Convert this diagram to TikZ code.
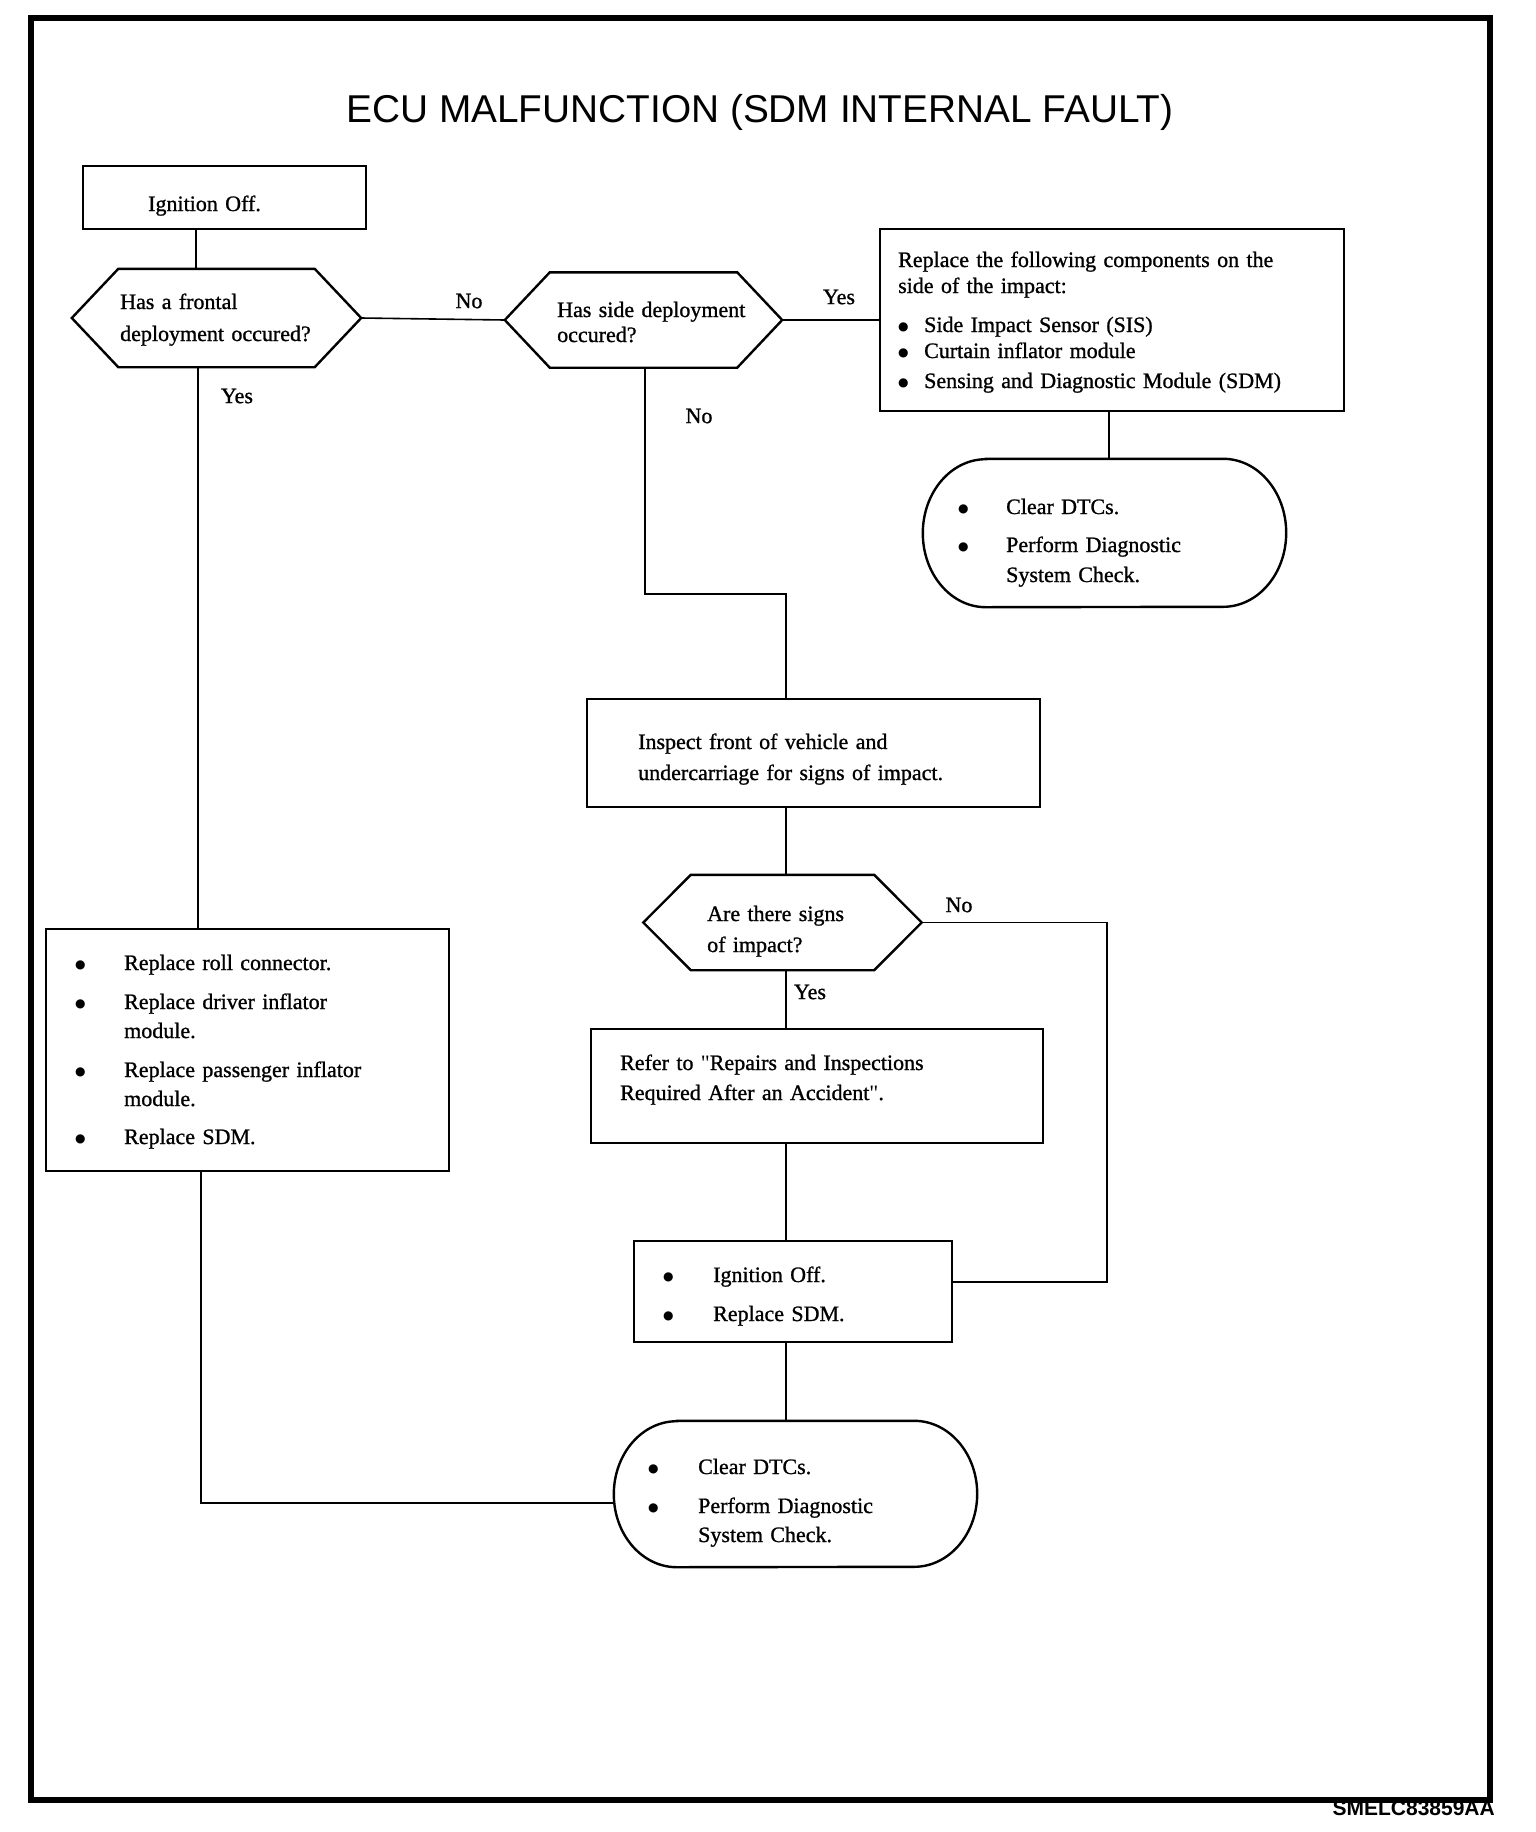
\documentclass[tikz,border=0pt]{standalone}
\usepackage{fontspec}
\setmainfont{Liberation Serif}[FakeBold=1.0]
\newfontfamily\titlefont{Liberation Sans}
\newfontfamily\plainserif{Liberation Serif}
\newfontfamily\symfont{DejaVu Sans}
\usetikzlibrary{calc}
\newcommand\bul[1]{\makebox[#1][l]{\raisebox{1.5pt}{\symfont\fontsize{12}{12}\selectfont ●}}}
\newcommand\sq{{\plainserif"}}
\begin{document}
\begin{tikzpicture}[x=1pt,y=-1pt,
  frame/.style={draw, line width=2.4pt, inner sep=0pt},
  ghost/.style={inner sep=0pt, draw=none},
  txt/.style={inner sep=0pt, anchor=base west, align=left, text width=#1, font=\fontsize{22}{22}\selectfont},
  txt/.default=420pt,
  lbl/.style={inner sep=0pt, font=\fontsize{22}{22}\selectfont},
  conn/.style={line width=1.6pt},
  outl/.style={line width=2.4pt, line join=miter}]
\useasboundingbox (0,0) rectangle (1536,1832);
\draw[line width=6pt] (31,18) rectangle (1490,1800);

% title and code
\node[anchor=base, inner sep=0pt, font=\titlefont\fontsize{38.8}{38.8}\selectfont] (title) at (760,122) {ECU MALFUNCTION (SDM INTERNAL FAULT)};
\node[anchor=base east, inner sep=0pt, font=\titlefont\bfseries\fontsize{21}{21}\selectfont] (code) at (1495,1815) {SMELC83859AA};

% boxes
\node[frame, minimum width=283pt, minimum height=63pt] (ign) at (224.5,197.5) {};
\node[txt=150pt] (ignT) at (148,211) {Ignition Off.};

\node[ghost, minimum width=196pt, minimum height=98pt] (d1) at (216.5,318) {};
\coordinate (d1l) at ([xshift=-46.5pt]d1.west);
\coordinate (d1r) at ([xshift=46.5pt]d1.east);
\draw[outl] (d1.north west) -- (d1.north east) -- (d1r) -- (d1.south east) -- (d1.south west) -- (d1l) -- cycle;
\node[txt=205pt] (d1T) at (120,309) {Has a frontal\\[10pt]deployment occured?};

\node[ghost, minimum width=187pt, minimum height=95pt] (d2) at (643.5,320) {};
\coordinate (d2l) at ([xshift=-45pt]d2.west);
\coordinate (d2r) at ([xshift=45pt]d2.east);
\draw[outl] (d2.north west) -- (d2.north east) -- (d2r) -- (d2.south east) -- (d2.south west) -- (d2l) -- cycle;
\node[txt=215pt] (d2T) at (557,317) {Has side deployment\\[3pt]occured?};

\node[frame, minimum width=464pt, minimum height=182pt] (rbox) at (1112,320) {};
\node[txt=440pt] (rboxT) at (898,267) {Replace the following components on the\\[4pt]side of the impact:\\[17pt]\bul{26pt}Side Impact Sensor (SIS)\\[4pt]\bul{26pt}Curtain inflator module\\[8pt]\bul{26pt}Sensing and Diagnostic Module (SDM)};

\node[ghost, minimum width=363pt, minimum height=148pt] (t1) at (1104.5,533) {};
\draw[outl] ([xshift=63pt]t1.north west) -- ([xshift=-63pt]t1.north east)
  arc[start angle=90, end angle=-90, x radius=63pt, y radius=74pt]
  -- ([xshift=63pt]t1.south west)
  arc[start angle=-90, end angle=-270, x radius=63pt, y radius=74pt] -- cycle;
\node[txt=280pt] (t1T) at (958,514) {\bul{48pt}Clear DTCs.\\[16pt]\bul{48pt}Perform Diagnostic\\[8pt]\hspace*{48pt}System Check.};

\node[frame, minimum width=453pt, minimum height=108pt] (insp) at (813.5,753) {};
\node[txt=350pt] (inspT) at (638,749) {Inspect front of vehicle and\\[9pt]undercarriage for signs of impact.};

\node[ghost, minimum width=183pt, minimum height=95pt] (d3) at (782.5,922.5) {};
\coordinate (d3l) at ([xshift=-47.5pt]d3.west);
\coordinate (d3r) at ([xshift=47.5pt]d3.east);
\draw[outl] (d3.north west) -- (d3.north east) -- (d3r) -- (d3.south east) -- (d3.south west) -- (d3l) -- cycle;
\node[txt=170pt] (d3T) at (707,921) {Are there signs\\[9pt]of impact?};

\node[frame, minimum width=452pt, minimum height=114pt] (refer) at (817,1086) {};
\node[txt=390pt] (referT) at (620,1070) {Refer to \sq Repairs and Inspections\\[8pt]Required After an Accident\sq.};

\node[frame, minimum width=318pt, minimum height=101pt] (box2) at (793,1291.5) {};
\node[txt=220pt] (box2T) at (663,1282) {\bul{50pt}Ignition Off.\\[17pt]\bul{50pt}Replace SDM.};

\node[ghost, minimum width=363pt, minimum height=146pt] (t2) at (795.5,1494) {};
\draw[outl] ([xshift=63pt]t2.north west) -- ([xshift=-63pt]t2.north east)
  arc[start angle=90, end angle=-90, x radius=63pt, y radius=73pt]
  -- ([xshift=63pt]t2.south west)
  arc[start angle=-90, end angle=-270, x radius=63pt, y radius=73pt] -- cycle;
\node[txt=280pt] (t2T) at (648,1474) {\bul{50pt}Clear DTCs.\\[17pt]\bul{50pt}Perform Diagnostic\\[7pt]\hspace*{50pt}System Check.};

\node[frame, minimum width=403pt, minimum height=242pt] (repl) at (247.5,1050) {};
\node[txt=365pt] (replT) at (75,970) {\bul{49pt}Replace roll connector.\\[17pt]\bul{49pt}Replace driver inflator\\[7pt]\hspace*{49pt}module.\\[17pt]\bul{49pt}Replace passenger inflator\\[7pt]\hspace*{49pt}module.\\[16pt]\bul{49pt}Replace SDM.};

% connectors
\coordinate (k1) at (786,594);
\coordinate (k2) at (1107,1282);
\coordinate (k3) at (201,1503);
\draw[conn] ([xshift=-28.5pt]ign.south) -- ([xshift=-28.5pt]ign.south |- d1.north);
\draw[conn] ([xshift=-18.5pt]d1.south) -- ([xshift=-18.5pt]d1.south |- repl.north);
\draw[conn] (d1r) -- (d2l);
\draw[conn] (d2r) -- (rbox.west);
\draw[conn] ([xshift=-3pt]rbox.south) -- ([xshift=-3pt]rbox.south |- t1.north);
\draw[conn] ([xshift=1.5pt]d2.south) |- (k1) -- (k1 |- insp.north);
\draw[conn] (k1 |- insp.south) -- (k1 |- d3.north);
\draw[conn] (k1 |- d3.south) -- (k1 |- refer.north);
\draw[conn] (k1 |- refer.south) -- (k1 |- box2.north);
\draw[conn] (k1 |- box2.south) -- (k1 |- t2.north);
\draw[conn] (d3r) -| (k2) -- (k2 -| box2.east);
\draw[conn] (k3 |- repl.south) -- (k3) -- (k3 -| t2.west);

% labels
\node[lbl] (yes1) at (237,396) {Yes};
\node[lbl] (no1) at (469,301) {No};
\node[lbl] (yes2) at (839,297) {Yes};
\node[lbl] (no2) at (699,416) {No};
\node[lbl] (no3) at (959,905) {No};
\node[lbl] (yes3) at (810,992) {Yes};
\end{tikzpicture}
\end{document}
